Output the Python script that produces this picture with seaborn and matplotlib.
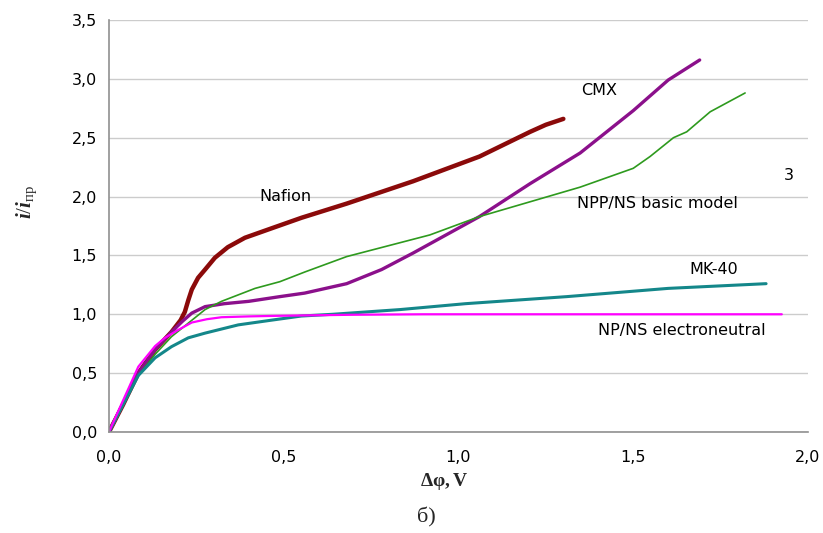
import numpy as np
import pandas as pd
import matplotlib
matplotlib.use("Agg")
import matplotlib.pyplot as plt
import seaborn as sns
from matplotlib.ticker import FuncFormatter, MultipleLocator

# Кривые
nafion_x = [0.0, 0.04, 0.084, 0.132, 0.179, 0.205, 0.217, 0.227, 0.237, 0.255, 0.275, 0.303, 0.34, 0.389, 0.465, 0.551, 0.68, 0.87, 1.06, 1.205, 1.25, 1.30]
nafion_y = [0.0, 0.23, 0.50, 0.70, 0.85, 0.95, 1.02, 1.12, 1.21, 1.31, 1.38, 1.48, 1.57, 1.65, 1.73, 1.82, 1.94, 2.13, 2.34, 2.55, 2.61, 2.66]

cmx_x = [0.0, 0.04, 0.084, 0.132, 0.179, 0.210, 0.237, 0.275, 0.33, 0.40, 0.489, 0.56, 0.68, 0.78, 0.87, 1.06, 1.205, 1.348, 1.50, 1.60, 1.69]
cmx_y = [0.0, 0.24, 0.50, 0.70, 0.85, 0.94, 1.01, 1.065, 1.09, 1.11, 1.15, 1.18, 1.26, 1.38, 1.52, 1.83, 2.11, 2.37, 2.73, 2.99, 3.16]

npp_x = [0.0, 0.04, 0.084, 0.132, 0.179, 0.227, 0.275, 0.322, 0.418, 0.489, 0.561, 0.68, 0.918, 1.06, 1.348, 1.50, 1.548, 1.615, 1.653, 1.72, 1.82]
npp_y = [0.0, 0.23, 0.48, 0.66, 0.81, 0.925, 1.04, 1.11, 1.22, 1.277, 1.36, 1.49, 1.674, 1.83, 2.08, 2.24, 2.34, 2.50, 2.55, 2.72, 2.88]

mk40_x = [0.0, 0.04, 0.084, 0.132, 0.179, 0.227, 0.275, 0.37, 0.465, 0.55, 0.64, 0.833, 1.02, 1.31, 1.60, 1.88]
mk40_y = [0.0, 0.23, 0.48, 0.63, 0.725, 0.80, 0.84, 0.91, 0.95, 0.985, 1.00, 1.04, 1.09, 1.15, 1.22, 1.26]

npns_x = [0.0, 0.03, 0.084, 0.132, 0.16, 0.198, 0.237, 0.28, 0.322, 0.40, 0.465, 0.55, 0.70, 0.90, 1.30, 1.925]
npns_y = [0.0, 0.20, 0.555, 0.73, 0.80, 0.867, 0.93, 0.958, 0.975, 0.982, 0.986, 0.99, 0.996, 1.0, 1.0, 1.0]

curves = [
    ("Nafion", nafion_x, nafion_y, "#8B0A0A", 3.2),
    ("CMX", cmx_x, cmx_y, "#8B108B", 2.4),
    ("NPP/NS basic model", npp_x, npp_y, "#2E9A1E", 1.2),
    ("MK-40", mk40_x, mk40_y, "#14878A", 2.2),
    ("NP/NS electroneutral", npns_x, npns_y, "#FF00FF", 1.6),
]

labels_txt = ["Nafion", "CMX", "3", "NPP/NS basic model", "MK-40", "NP/NS electroneutral"]
labels_x = [0.43, 1.35, 1.93, 1.34, 1.66, 1.40]
labels_y = [2.0, 2.9, 2.18, 1.94, 1.38, 0.86]

sns.set_theme(style="white")
plt.rcParams["font.family"] = ["DejaVu Sans"]
plt.rcParams["mathtext.fontset"] = "custom"
plt.rcParams["mathtext.rm"] = "Liberation Serif"
plt.rcParams["mathtext.bf"] = "Liberation Serif:bold"
plt.rcParams["mathtext.it"] = "Liberation Serif:italic:bold"

fig = plt.figure(figsize=(8.23, 5.33), dpi=100)
ax = fig.add_axes([0.1324, 0.1895, 0.8494, 0.773])

for name, xs, ys, col, lw in curves:
    sns.lineplot(x=xs, y=ys, color=col, lw=lw, ax=ax, sort=False, estimator=None)

for t, tx, ty in zip(labels_txt, labels_x, labels_y):
    ax.text(tx, ty, t, fontsize=11.5, color="black", va="center", ha="left")

ax.set_xlim(0, 2.0)
ax.set_ylim(0, 3.5)
ax.xaxis.set_major_locator(MultipleLocator(0.5))
ax.yaxis.set_major_locator(MultipleLocator(0.5))
fmt = FuncFormatter(lambda v, p: f"{v:.1f}".replace(".", ","))
ax.xaxis.set_major_formatter(fmt)
ax.yaxis.set_major_formatter(fmt)
ax.grid(axis="y", color="#cccccc", lw=1)
ax.set_axisbelow(True)
for s in ["top", "right"]:
    ax.spines[s].set_visible(False)
for s in ["left", "bottom"]:
    ax.spines[s].set_color("#909090")
    ax.spines[s].set_linewidth(1.2)
ax.tick_params(axis="both", direction="out", length=5, color="#909090", labelsize=11.5, labelcolor="black")
ax.tick_params(axis="x", pad=8)

ax.set_xlabel(r"$\mathbf{\Delta\varphi, V}$", fontsize=14, va="center")
ax.xaxis.set_label_coords(0.48, -0.121)
ax.set_ylabel(r"$\mathit{i/i}_{\mathrm{пр}}$", fontsize=15, va="center")
ax.yaxis.set_label_coords(-0.118, 0.558)

fig.text(0.518, 0.029, "б)", fontsize=16, family="Liberation Serif", ha="center", va="center")

fig.savefig("out.png", dpi=100)
